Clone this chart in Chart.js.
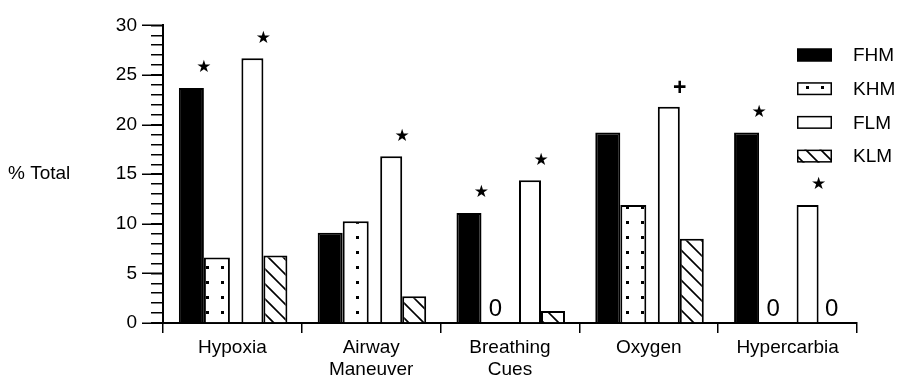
<!DOCTYPE html>
<html>
<head>
<meta charset="utf-8">
<script src="https://cdn.jsdelivr.net/npm/chart.js@4/dist/chart.umd.min.js"></script>
<style>
html,body{margin:0;padding:0;background:#fff;}
#wrap{width:899px;height:379px;}
</style>
</head>
<body>
<div id="wrap"><canvas id="c" width="899" height="379"></canvas></div>
<script>
// ---- data ----
const categories = ['Hypoxia', ['Airway', 'Maneuver'], ['Breathing', 'Cues'], 'Oxygen', 'Hypercarbia'];
const seriesNames = ['FHM', 'KHM', 'FLM', 'KLM'];
const fhmValues = [23.7, 9.1, 11.1, 19.2, 19.2];
const khmValues = [6.6, 10.25, 0, 11.9, 0];
const flmValues = [26.7, 16.8, 14.4, 21.8, 11.9];
const klmValues = [6.8, 2.7, 1.2, 8.5, 0];
const fhmMarks = ['*', '', '*', '', '*'];
const khmMarks = ['', '', '0', '', '0'];
const flmMarks = ['*', '*', '*', '+', '*'];
const klmMarks = ['', '', '', '', '0'];
const yMin = 0, yMax = 30, yMinorStep = 1, yMajorStep = 5;
const yTitle = '% Total';

// ---- styling ----
const FONT = "'Liberation Sans', Arial, Helvetica, sans-serif";
Chart.defaults.font.family = FONT;
Chart.defaults.font.size = 19;
Chart.defaults.color = '#000';

const canvas = document.getElementById('c');
const ctx = canvas.getContext('2d');

function makeDots() {
  const c = document.createElement('canvas'); c.width = 15; c.height = 15;
  const g = c.getContext('2d');
  g.fillStyle = '#fff'; g.fillRect(0, 0, 15, 15);
  g.fillStyle = '#000'; g.fillRect(11, 11, 3, 3);
  return ctx.createPattern(c, 'repeat');
}
function makeHatch() {
  const c = document.createElement('canvas'); c.width = 15; c.height = 15;
  const g = c.getContext('2d');
  g.fillStyle = '#fff'; g.fillRect(0, 0, 15, 15);
  g.strokeStyle = '#000'; g.lineWidth = 1.6;
  g.beginPath();
  g.moveTo(-4, 0); g.lineTo(15, 19);
  g.moveTo(7, -4); g.lineTo(19, 8);
  g.stroke();
  return ctx.createPattern(c, 'repeat');
}
const dots = makeDots();
const hatch = makeHatch();

const marksBySeries = [fhmMarks, khmMarks, flmMarks, klmMarks];

const extras = {
  id: 'extras',
  afterDatasetsDraw(chart) {
    const c = chart.ctx;
    c.save();
    c.fillStyle = '#000';
    c.textAlign = 'center';
    c.textBaseline = 'middle';
    marksBySeries.forEach((marks, di) => {
      const meta = chart.getDatasetMeta(di);
      marks.forEach((m, j) => {
        if (!m) return;
        const el = meta.data[j];
        const p = el.getProps(['x', 'y', 'base', 'width'], true);
        if (m === '*') {
          c.font = "17px 'DejaVu Sans'";
          c.fillText('\u2605', p.x + p.width / 2, p.y - 20);
        } else if (m === '+') {
          c.font = "bold 23px " + FONT;
          c.fillText('+', p.x + p.width / 2, p.y - 18);
        } else {
          c.font = "24px " + FONT;
          c.fillText(m, p.x + 1, p.base - 14);
        }
      });
    });
    c.restore();
  },
  afterDraw(chart) {
    const c = chart.ctx;
    const ys = chart.scales.y;
    const left = chart.chartArea.left;
    c.save();
    // major ticks
    c.strokeStyle = '#000';
    c.lineWidth = 1.5;
    c.beginPath();
    for (let v = yMin; v <= yMax; v += yMajorStep) {
      const py = Math.round(ys.getPixelForValue(v)) + 0.25;
      c.moveTo(left - 21, py);
      c.lineTo(left, py);
    }
    c.stroke();
    // y title
    c.fillStyle = '#000';
    c.font = "19px " + FONT;
    c.textAlign = 'left';
    c.textBaseline = 'middle';
    c.fillText(yTitle, 8, (chart.chartArea.top + chart.chartArea.bottom) / 2);
    // legend
    chart.data.datasets.forEach((ds, i) => {
      const cy = 55 + i * 33.7;
      c.fillStyle = ds.backgroundColor;
      c.fillRect(797, cy - 6.5, 35, 13);
      c.strokeStyle = '#000';
      c.lineWidth = 1.5;
      c.strokeRect(797.75, cy - 5.75, 33.5, 11.5);
      c.fillStyle = '#000';
      c.fillText(ds.label, 853, cy + 1);
    });
    c.restore();
  }
};

new Chart(ctx, {
  type: 'bar',
  data: {
    labels: categories,
    datasets: [
      { label: seriesNames[0], data: fhmValues, backgroundColor: '#000', borderColor: '#000', borderWidth: 2,
        categoryPercentage: 0.788, barPercentage: 0.915 },
      { label: seriesNames[1], data: khmValues, backgroundColor: dots, borderColor: '#000', borderWidth: 2,
        categoryPercentage: 0.893, barPercentage: 0.839 },
      { label: seriesNames[2], data: flmValues, backgroundColor: '#fff', borderColor: '#000', borderWidth: 2,
        categoryPercentage: 1.153, barPercentage: 0.55 },
      { label: seriesNames[3], data: klmValues, backgroundColor: hatch, borderColor: '#000', borderWidth: 2,
        categoryPercentage: 0.826, barPercentage: 0.837 }
    ]
  },
  options: {
    responsive: false,
    animation: false,
    devicePixelRatio: 1,
    layout: { padding: { top: 15, right: 42, left: 0, bottom: 0 } },
    plugins: { legend: { display: false }, tooltip: { enabled: false } },
    scales: {
      x: {
        type: 'category',
        grid: { drawOnChartArea: false, offset: true, tickLength: 10, color: '#000', lineWidth: 1.5 },
        border: { display: true, color: '#000', width: 2 },
        ticks: { padding: 3, color: '#000', font: { size: 19 }, maxRotation: 0, autoSkip: false },
        afterFit(scale) { scale.height = 56; }
      },
      y: {
        min: yMin, max: yMax,
        grid: { drawOnChartArea: false, tickLength: 12, color: '#000', lineWidth: 1.5 },
        border: { display: true, color: '#000', width: 2 },
        ticks: {
          stepSize: yMinorStep, autoSkip: false, padding: 14, color: '#000', font: { size: 19 },
          callback: (v) => (v % yMajorStep === 0 ? String(v) : '')
        },
        afterFit(scale) { scale.width = 163; }
      }
    }
  },
  plugins: [extras]
});
</script>
</body>
</html>
